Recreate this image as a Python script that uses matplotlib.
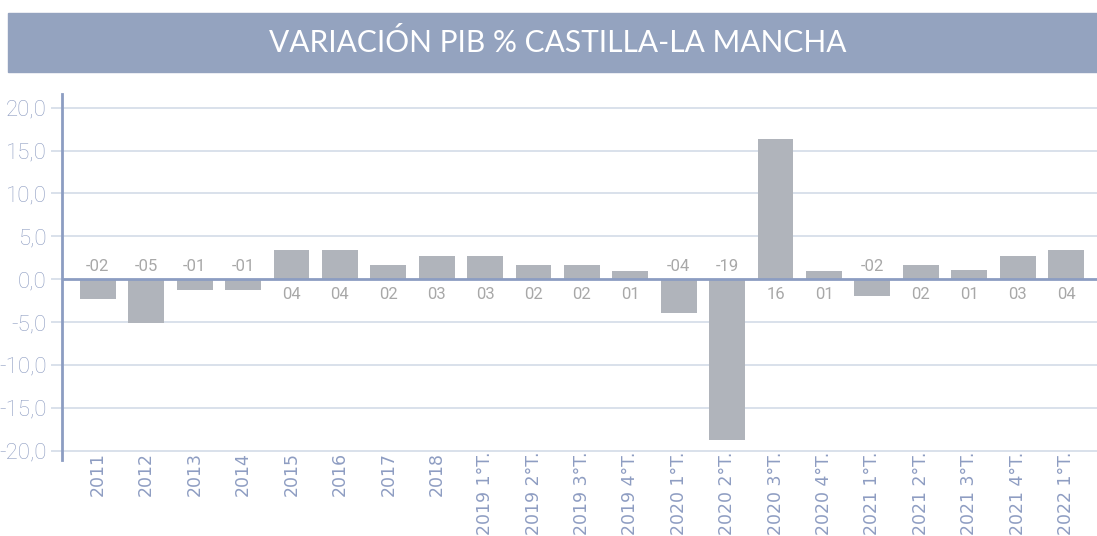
import matplotlib
matplotlib.use('Agg')
import matplotlib.pyplot as plt
from matplotlib.patches import Rectangle

# datos
periodos = ['2011', '2012', '2013', '2014', '2015', '2016', '2017', '2018',
            '2019 1°T.', '2019 2°T.', '2019 3°T.', '2019 4°T.',
            '2020 1°T.', '2020 2°T.', '2020 3°T.', '2020 4°T.',
            '2021 1°T.', '2021 2°T.', '2021 3°T.', '2021 4°T.', '2022 1°T.']
variacion = [-2.3, -5.1, -1.3, -1.3, 3.4, 3.4, 1.6, 2.7,
             2.7, 1.6, 1.6, 0.9,
             -4.0, -18.8, 16.4, 0.9,
             -2.0, 1.6, 1.1, 2.7, 3.4]
etiquetas = ['-02', '-05', '-01', '-01', '04', '04', '02', '03',
             '03', '02', '02', '01',
             '-04', '-19', '16', '01',
             '-02', '02', '01', '03', '04']
yticks = [20, 15, 10, 5, 0, -5, -10, -15, -20]

titulo = 'VARIACIÓN PIB % CASTILLA-LA MANCHA'

c_barra = '#b0b4bb'
c_grid = '#d3dbe8'
c_eje = '#8c9dc2'
c_texto = '#8e9dc2'
c_etiq = '#a8a8a8'

fig = plt.figure(figsize=(10.97, 5.36), dpi=100)

# banda del título
fig.patches.append(Rectangle((8 / 1097, 1 - 72 / 536), 1, 59 / 536,
                             transform=fig.transFigure, color='#94a3bf', zorder=0))
fig.text(0.508, 1 - 43 / 536, titulo, ha='center', va='center', color='white',
         fontsize=21.5, family='Lato')

ax = fig.add_axes([62 / 1097, 76 / 536, 1 - 62 / 1097, 366 / 536])
x = list(range(len(periodos)))
ax.bar(x, variacion, width=0.74, color=c_barra, zorder=2)

# etiquetas: las negativas encima del cero, las positivas debajo
for i, (v, t) in enumerate(zip(variacion, etiquetas)):
    if v < 0:
        ax.annotate(t, (i, 0), xytext=(0, 4), textcoords='offset points',
                    ha='center', va='bottom', color=c_etiq, fontsize=12, family='Roboto')
    else:
        ax.annotate(t, (i, 0), xytext=(0, -6), textcoords='offset points',
                    ha='center', va='top', color=c_etiq, fontsize=12, family='Roboto')

for y in yticks:
    if y != 0:
        ax.axhline(y, color=c_grid, lw=1.2, zorder=1)
ax.axhline(0, color=c_eje, lw=2, zorder=3)

ax.set_xlim(-0.74, 20.64)
ax.set_ylim(-21.1, 21.6)
ax.set_yticks(yticks)
ax.set_yticklabels([f'{y:.1f}'.replace('.', ',') for y in yticks],
                   fontsize=16, color=c_texto, family='Roboto', fontweight='light')
ax.tick_params(axis='y', length=8, width=1.2, color=c_grid, pad=3)
ax.set_xticks(x)
ax.set_xticklabels(periodos, rotation=90, fontsize=12.5, color=c_texto,
                   family='DejaVu Sans', va='top')
ax.tick_params(axis='x', length=0, pad=-6)

for s in ['top', 'right', 'bottom']:
    ax.spines[s].set_visible(False)
ax.spines['left'].set_color(c_eje)
ax.spines['left'].set_linewidth(2)

fig.savefig('out.png', dpi=100)
